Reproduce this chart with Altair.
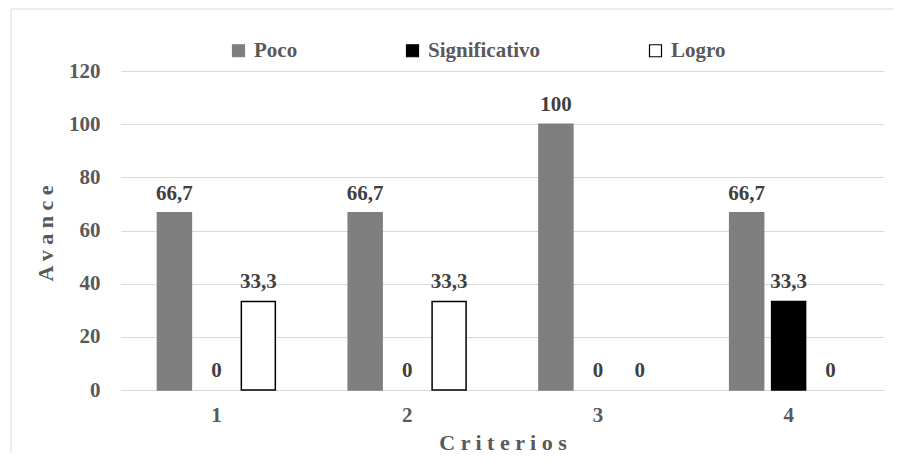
import altair as alt
import pandas as pd

criterios = ["1", "2", "3", "4"]
series = ["Poco", "Significativo", "Logro"]
poco = [66.7, 66.7, 100, 66.7]
significativo = [0, 0, 0, 33.3]
logro = [33.3, 33.3, 0, 0]
y_ticks = [0, 20, 40, 60, 80, 100, 120]

rows = []
for i, c in enumerate(criterios):
    for s, vals in zip(series, [poco, significativo, logro]):
        v = vals[i]
        rows.append({"criterio": c, "serie": s, "valor": v,
                     "etiqueta": f"{v:g}".replace(".", ",")})
df = pd.DataFrame(rows)

FONT = "'Liberation Serif', 'Times New Roman', 'DejaVu Serif', serif"
GRAY = "#595959"
GRID = "#d9d9d9"

x = alt.X("criterio:N", sort=criterios,
          scale=alt.Scale(paddingInner=0.34, paddingOuter=0.17),
          axis=alt.Axis(title="C r i t e r i o s", labelAngle=0, ticks=False, tickSize=0,
                        labelPadding=14, domainColor=GRID, grid=False,
                        titleY=59, titleBaseline="alphabetic"))
xoff = alt.XOffset("serie:N", sort=series,
                   scale=alt.Scale(domain=series, paddingInner=0.19, paddingOuter=0.095))
y = alt.Y("valor:Q", scale=alt.Scale(domain=[0, 120]),
          axis=alt.Axis(title="A v a n c e", values=y_ticks, ticks=False, tickSize=0,
                        labelPadding=21, domain=False, gridColor=GRID,
                        titleX=-69, titleY=162, titleAngle=270, titleAlign="center",
                        titleBaseline="alphabetic"))

legend = alt.Legend(title=None, orient="none", legendX=107, legendY=-31,
                    direction="horizontal", symbolType="square", symbolSize=144,
                    symbolStrokeWidth=1.2, columnPadding=104, labelOffset=5)
fill = alt.Fill("serie:N", sort=series,
                scale=alt.Scale(domain=series, range=["#7f7f7f", "#000000", "#ffffff"]),
                legend=legend)
stroke = alt.Stroke("serie:N", sort=series,
                    scale=alt.Scale(domain=series, range=["#7f7f7f", "#000000", "#000000"]),
                    legend=legend)

frame = pd.DataFrame({"a": [0]})
top_line = alt.Chart(frame).mark_rule(color=GRID, strokeWidth=1).encode(
    x=alt.value(-110), x2=alt.value(780), y=alt.value(-62))
left_line = alt.Chart(frame).mark_rule(color=GRID, strokeWidth=1).encode(
    x=alt.value(-110), y=alt.value(-62), y2=alt.value(400))

bars = alt.Chart(df).transform_filter("datum.valor > 0").mark_bar(strokeWidth=1.5).encode(
    x=x, xOffset=xoff, y=y, fill=fill, stroke=stroke
)

labels = alt.Chart(df).mark_text(
    font=FONT, fontSize=21, fontWeight="bold", color="#404040",
    baseline="alphabetic", dy=-13
).encode(x=x, xOffset=xoff, y=y, text="etiqueta:N")

chart = alt.layer(top_line, left_line, bars, labels).properties(
    width=763, height=319,
    autosize=alt.AutoSizeParams(type="none"),
    padding={"left": 113, "top": 63, "right": 9, "bottom": 63},
).configure_view(stroke=None).configure_axis(
    labelFont=FONT, labelFontSize=21, labelFontWeight="bold", labelColor=GRAY,
    titleFont=FONT, titleFontSize=22, titleFontWeight="bold", titleColor=GRAY,
).configure_legend(
    labelFont=FONT, labelFontSize=21, labelFontWeight="bold", labelColor=GRAY
)

chart.save("out.html", embed_options={"renderer": "svg", "actions": False})
